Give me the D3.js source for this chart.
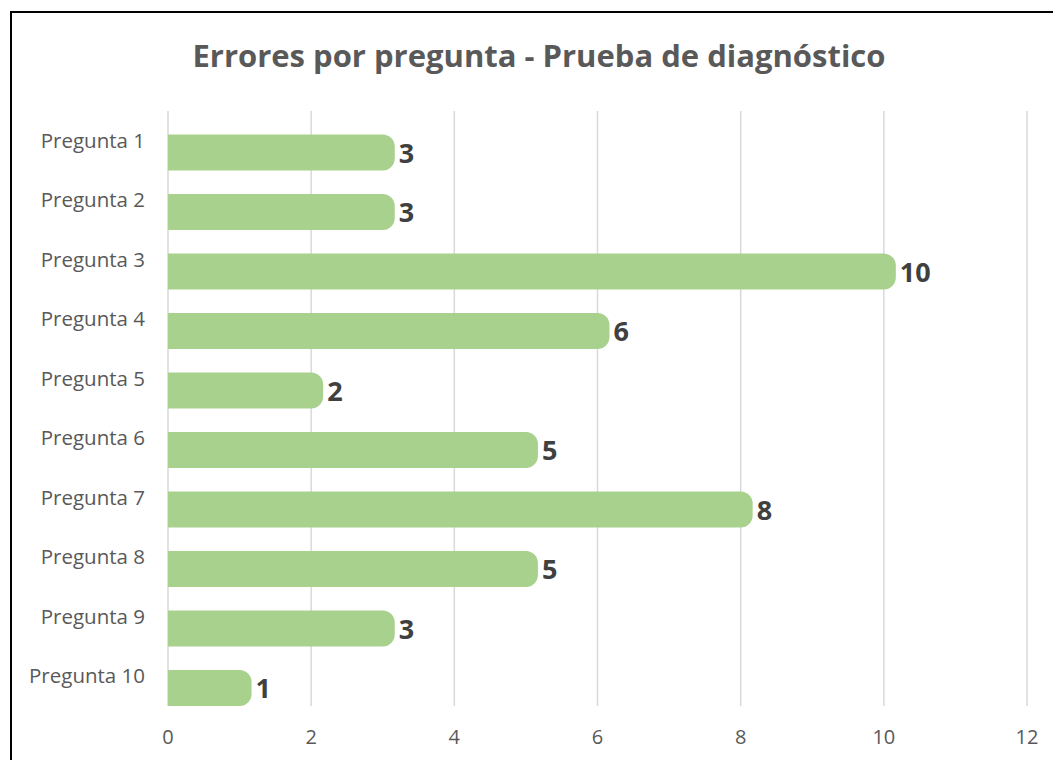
<!DOCTYPE html>
<html>
<head>
<meta charset="utf-8">
<script src="https://cdn.jsdelivr.net/npm/d3@7"></script>
<style>
  body { margin: 0; background: #fff; }
  svg { display: block; }
  text { font-family: "Open Sans", Lato, sans-serif; }
</style>
</head>
<body>
<svg id="chart" width="1053" height="760"></svg>
<script>
const title = "Errores por pregunta - Prueba de diagnóstico";
const preguntas = ["Pregunta 1", "Pregunta 2", "Pregunta 3", "Pregunta 4", "Pregunta 5",
  "Pregunta 6", "Pregunta 7", "Pregunta 8", "Pregunta 9", "Pregunta 10"];
const errores = [3, 3, 10, 6, 2, 5, 8, 5, 3, 1];
const xTicks = [0, 2, 4, 6, 8, 10, 12];

const width = 1053, height = 760;
const svg = d3.select("#chart");

// frame around the chart area
svg.append("rect")
  .attr("x", 11).attr("y", 12)
  .attr("width", width + 10).attr("height", height + 10)
  .attr("fill", "none").attr("stroke", "#000").attr("stroke-width", 2);

svg.append("text")
  .attr("x", 539).attr("y", 67)
  .attr("text-anchor", "middle")
  .attr("fill", "#595959")
  .style("font-size", "31px").style("font-weight", "bold")
  .text(title);

const x = d3.scaleLinear().domain([0, 12]).range([168, 1027]);
const y = d3.scaleBand().domain(preguntas).range([111, 706]);
const barH = 36;

// vertical gridlines
svg.append("g").selectAll("line")
  .data(xTicks)
  .enter().append("line")
  .attr("x1", d => x(d)).attr("x2", d => x(d))
  .attr("y1", 111).attr("y2", 706)
  .attr("stroke", "#d9d9d9").attr("stroke-width", 1.5);

// bars: square on the left, rounded cap sticking out on the right
const r = 12;
function barPath(v, cat) {
  const x0 = x(0), x1 = x(v) + r;
  const y0 = y(cat) + y.bandwidth() - barH, y1 = y0 + barH;
  const p = d3.path();
  p.moveTo(x0, y0);
  p.lineTo(x1 - r, y0);
  p.arcTo(x1, y0, x1, y0 + r, r);
  p.lineTo(x1, y1 - r);
  p.arcTo(x1, y1, x1 - r, y1, r);
  p.lineTo(x0, y1);
  p.closePath();
  return p.toString();
}

svg.append("g").selectAll("path")
  .data(errores)
  .enter().append("path")
  .attr("d", (d, i) => barPath(d, preguntas[i]))
  .attr("fill", "#a9d18e");

// value labels
svg.append("g").selectAll("text")
  .data(errores)
  .enter().append("text")
  .attr("x", d => x(d) + r + 4)
  .attr("y", (d, i) => y(preguntas[i]) + y.bandwidth() - barH / 2 + 10)
  .attr("fill", "#404040")
  .style("font-size", "27px").style("font-weight", "bold")
  .text(d => d);

// category labels
svg.append("g").selectAll("text")
  .data(preguntas)
  .enter().append("text")
  .attr("x", 145)
  .attr("y", d => y(d) + y.bandwidth() / 2 + 7)
  .attr("text-anchor", "end")
  .attr("fill", "#595959")
  .style("font-size", "20.5px")
  .text(d => d);

// x tick labels
svg.append("g").selectAll("text")
  .data(xTicks)
  .enter().append("text")
  .attr("x", d => x(d))
  .attr("y", 744)
  .attr("text-anchor", "middle")
  .attr("fill", "#595959")
  .style("font-size", "20px")
  .text(d => d);
</script>
</body>
</html>
